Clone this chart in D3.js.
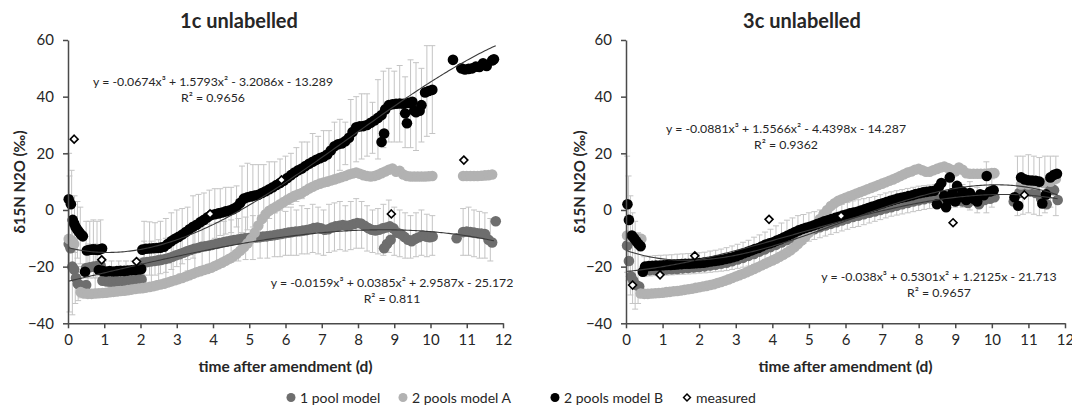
<!DOCTYPE html>
<html><head><meta charset="utf-8">
<script src="https://cdn.jsdelivr.net/npm/d3@7"></script>
<style>
body{margin:0;background:#fff}
svg{display:block}
text{font-family:Lato,"Open Sans",sans-serif;fill:#262626}
</style>
</head><body>
<svg id="chart" width="1072" height="414"></svg>
<script>
// ---------------- DATA ----------------
const xTicks = [0,1,2,3,4,5,6,7,8,9,10,11,12];
const yTicks = [-40,-20,0,20,40,60];
const titles = ["1c unlabelled", "3c unlabelled"];
const xLabel = "time after amendment (d)";
const yLabel = "δ15N N2O (‰)";
const legendLabels = ["1 pool model", "2 pools model A", "2 pools model B", "measured"];

// ---- 1c unlabelled ----
const L_pool1 = [[0.02,-12],[0.07,-13.5],[0.12,-20],[0.17,-21],[0.22,-24],[0.27,-26],[0.32,-26.5],[0.38,-26.8],[0.44,-27],[0.5,-26.5],
[0.5,-20.5],[0.6,-20.2],[0.7,-20],[0.8,-19.8],[0.9,-19.6],
[0.95,-25],[1.05,-25.2],[1.15,-25.3],[1.25,-25.3],[1.35,-25.2],[1.45,-25.2],[1.55,-25.1],[1.65,-25],[1.75,-24.9],[1.85,-24.8],[1.95,-24.6],[2.03,-24.5],
[2.08,-18.6],[2.18,-18.4],[2.28,-18.2],[2.38,-18],[2.48,-17.8],[2.58,-17.6],[2.68,-17.3],[2.78,-17],[2.88,-16.5],[2.98,-16],[3.08,-15.6],[3.18,-15.1],[3.28,-14.6],[3.38,-14.1],[3.48,-13.7],[3.58,-13.4],[3.68,-13],[3.78,-12.8],[3.88,-12.6],[3.98,-12.3],[4.08,-12],[4.18,-11.7],[4.28,-11.4],[4.38,-11.1],[4.48,-10.9],[4.58,-10.6],[4.68,-10.4],[4.78,-10.2],[4.88,-10],[4.98,-9.9],[5.08,-9.8],[5.18,-9.7],[5.28,-9.6],[5.38,-9.4],[5.48,-9.3],[5.58,-9.1],[5.68,-8.9],[5.78,-8.7],[5.88,-8.5],[5.98,-8.2],[6.08,-8],[6.18,-7.8],[6.28,-7.6],[6.38,-7.5],[6.48,-7.3],[6.58,-7.1],[6.68,-6.8],[6.78,-6.4],[6.88,-6.2],[6.98,-6.5],[7.08,-7],[7.18,-6.8],[7.28,-6.2],[7.38,-5.8],[7.48,-5.6],[7.58,-5.3],[7.68,-5.6],[7.78,-5.4],[7.88,-5],[7.98,-4.6],[8.08,-4.8],[8.18,-5.6],[8.28,-6.4],[8.38,-7],[8.48,-7.2],[8.58,-7],[8.68,-6.5],[8.78,-6.2],[8.88,-5.8],[8.98,-6.5],
[8.72,-13.5],[8.8,-12],[8.9,-10.5],
[9.08,-8],[9.18,-8.5],[9.28,-9.5],[9.38,-10.5],[9.48,-11],[9.58,-10.2],[9.68,-9.6],[9.78,-9],[9.88,-9.4],[9.98,-9.6],[10.06,-9.4],
[10.72,-10],
[10.9,-7.8],[11,-7.6],[11.1,-7.8],[11.2,-8],[11.3,-8.2],[11.4,-8.3],[11.5,-8.5],[11.6,-10.5],[11.7,-11.5],[11.8,-4]];

const L_modelA = [[0.02,-10.2],[0.07,-10.5],[0.12,-11],[0.17,-12],
[0.35,-29],[0.45,-29.5],[0.55,-29.6],[0.65,-29.6],[0.75,-29.5],[0.85,-29.4],[0.95,-29.3],[1.05,-29.2],[1.15,-29],[1.25,-28.9],[1.35,-28.8],[1.45,-28.6],[1.55,-28.5],[1.65,-28.3],[1.75,-28.1],[1.85,-27.9],[1.95,-27.7],[2.05,-27.6],[2.15,-27.4],[2.25,-27.2],[2.35,-26.9],[2.45,-26.6],[2.55,-26.3],[2.65,-26],[2.75,-25.6],[2.85,-25.2],[2.95,-24.8],[3.05,-24.4],[3.15,-24],[3.25,-23.5],[3.35,-23],[3.45,-22.5],[3.55,-22],[3.65,-21.6],[3.75,-21.2],[3.85,-20.8],[3.95,-20.4],[4.05,-19.8],[4.15,-19.2],[4.25,-18.6],[4.35,-17.9],[4.45,-17.2],[4.55,-16.5],[4.65,-15.5],[4.75,-14.4],[4.85,-13.2],[4.95,-11.8],[5.05,-10.2],[5.15,-8],[5.25,-5.5],[5.35,-3.2],[5.45,-1.5],[5.55,-0.3],[5.65,0.5],[5.75,1.2],[5.85,2],[5.95,2.8],[6.05,3.6],[6.15,4.3],[6.25,5],[6.35,5.5],[6.45,6],[6.55,6.8],[6.65,7.6],[6.75,8.2],[6.85,8.8],[6.95,9.3],[7.05,9.7],[7.15,10],[7.25,10.4],[7.35,10.8],[7.45,11.2],[7.55,11.6],[7.65,12],[7.75,12.5],[7.85,12.9],[7.95,13.2],[8.05,12.8],[8.15,12.3],[8.25,12],[8.35,11.8],[8.45,12],[8.55,12.4],[8.65,13],[8.75,13.6],[8.85,14.2],[8.95,14.6],[9.05,13.5],[9.15,13.8],[9.25,12.5],[9.35,12],[9.45,11.8],[9.55,11.8],[9.65,11.8],[9.75,11.8],[9.85,11.8],[9.95,11.9],[10.05,12],
[10.9,12],[11,12],[11.1,12],[11.2,12],[11.3,12],[11.4,12.1],[11.5,12.2],[11.6,12.3],[11.7,12.5]];

const L_modelB = [[0.02,3.8],[0.08,2.0],[0.13,-3.5],[0.17,-4.8],[0.21,-6],[0.25,-6.8],[0.29,-7.5],[0.33,-8.2],[0.37,-8.8],[0.41,-9.3],
[0.47,-21.8],
[0.52,-14.3],[0.58,-14.1],[0.64,-14],[0.7,-13.9],[0.76,-14],[0.82,-14.1],[0.88,-13.9],[0.94,-13.6],
[0.85,-21.2],[0.95,-21.5],[1.05,-21.7],[1.15,-21.6],[1.25,-21.7],[1.35,-21.6],[1.45,-21.5],[1.55,-21.5],[1.65,-21.4],[1.75,-21.3],[1.85,-21.2],[1.95,-21],[2.02,-20.8],
[2.05,-14],[2.15,-13.7],[2.25,-13.6],[2.35,-13.5],[2.45,-13.4],[2.55,-13.3],[2.65,-13],[2.75,-12],[2.85,-11],[2.95,-10.2],[3.05,-9.5],[3.15,-8.7],[3.25,-7.8],[3.35,-6.8],[3.45,-5.9],[3.55,-5.2],[3.65,-4.3],[3.75,-3.5],[3.85,-2.6],[3.95,-1.8],[4.05,-1.5],[4.15,-1.2],[4.25,-0.9],[4.35,-0.5],[4.45,-0.2],[4.55,0.3],[4.65,1.0],[4.75,2.5],[4.85,4],[4.95,4.5],[5.05,4.8],[5.15,5.1],[5.25,5.4],[5.35,6],[5.45,6.6],[5.55,7.3],[5.65,8],[5.75,8.8],[5.85,9.5],[5.95,10.3],[6.05,11.3],[6.15,12.3],[6.25,13.2],[6.35,14],[6.45,14.6],[6.55,15.5],[6.65,16.3],[6.75,17],[6.85,17.7],[6.95,18.3],[7.05,18.8],[7.15,19.6],[7.25,21],[7.35,22.5],[7.45,23.2],[7.55,23.5],[7.65,24.3],[7.75,25.5],[7.85,27.5],[7.95,29.2],[8.05,29.5],[8.15,29.6],[8.25,30],[8.35,30.8],[8.45,31.6],[8.55,32.5],
[8.65,24],[8.72,27],
[8.65,33.5],[8.75,35.5],[8.85,37],[8.95,37.3],[9.05,37.5],[9.15,37.6],[9.25,37.5],
[9.3,34.1],[9.35,30.6],
[9.4,37.8],[9.5,38.2],[9.55,35],[9.6,34.5],[9.7,35],[9.75,37],[9.85,41.5],[9.95,42],[10.05,42.4],
[10.62,53],
[10.85,50],[10.95,49.6],[11.05,49.8],[11.15,50],[11.25,50.6],[11.35,50.5],[11.45,51.8],[11.55,50.8],[11.7,52.8],[11.75,53.2]];

const L_measured = [[0.17,25],[0.93,-17.6],[1.89,-18.2],[3.92,-1.4],[5.89,10.6],[8.92,-1.4],[10.92,17.6]];

// error bars [t, low, high]
const L_barsB = [[0.03,-12,20],[0.1,-14,14],[0.18,-15,5],[0.26,-17,3],[0.34,-19,1],
[0.5,-24,-4],[0.6,-24,-4],[0.7,-24,-3.5],[0.8,-24,-4],[0.9,-24,-3.5],
[1.0,-25,-18],[1.2,-25,-18],[1.4,-25,-18],[1.6,-25,-18],[1.8,-25,-18],[2.0,-25,-17],
[2.1,-23,-4],[2.25,-23,-4.2],[2.4,-23,-4.5],[2.55,-22.5,-4],[2.7,-22,-3],[2.85,-21,-1],[3.0,-20,0],[3.15,-19,0.5],[3.3,-17.5,1],[3.45,-17,5],[3.6,-15,5.5],[3.75,-13.5,6],[3.9,-11,7],[4.05,-10,7.5],[4.2,-9,7.5],[4.35,-8.5,8],[4.5,-8,8],[4.65,-6,8.5],[4.8,-8,15.5],[4.95,-7,16.5],[5.1,-6,16],[5.25,-5,16],[5.4,-4,16],[5.55,-3,17],[5.7,-1,17],[5.85,0,18],[6.0,1,19],[6.15,2,20],[6.3,3,22],[6.45,4,24],[6.6,6,24],[6.75,7,27],[6.9,9,26],[7.05,10,28],[7.2,11,28],[7.35,12,31],[7.5,14,32],[7.65,16,31],[7.8,14,39],[7.95,17,40],[8.1,18,41],[8.25,19,41],[8.4,20,38],[8.55,18,46],[8.7,22,49],[8.85,24,50],[9.0,24,49],[9.15,24,51],[9.3,22,47],[9.45,22,53],[9.6,21,52],[9.75,24,50],[9.9,26,58],[10.05,27,58]];

const L_barsP = [[0.04,-36,12],[0.12,-37,-3],[0.2,-33,-14],[0.28,-32,-20],[0.36,-31,-22],
[0.55,-28,-12],[0.75,-28,-12],
[2.1,-26,-11],[2.3,-25.5,-11],[2.5,-25,-10.5],[2.7,-24.5,-10],[2.9,-23.5,-9],[3.1,-22.5,-8.5],[3.3,-21.5,-7.5],[3.5,-21,-6.5],[3.7,-20.5,-5.5],[3.9,-20,-5],[4.1,-19.5,-4.5],[4.3,-19,-4],[4.5,-18.5,-3.5],[4.7,-18,-3],[4.9,-17.5,-2.5],[5.1,-17.5,-2],[5.3,-17,-2],[5.5,-17,-1.5],[5.7,-16.5,-1],[5.85,-16.5,0],[6.0,-16,-0.5],[6.15,-16,1],[6.3,-16,0],[6.45,-15.5,1.5],[6.6,-15.5,0.5],[6.75,-15,2],[6.9,-15.5,1],[7.05,-16,0],[7.2,-15,2],[7.35,-14.5,2.5],[7.5,-14,3],[7.65,-14.5,1.5],[7.8,-14,3],[7.95,-13.5,4],[8.1,-13.5,3],[8.25,-14.5,1.5],[8.4,-15,0],[8.55,-15.5,0.5],[8.7,-16,2],[8.85,-15,3.5],[9.0,-16,1],[9.15,-16.5,0],[9.3,-17,-1],[9.45,-17,-2],[9.6,-16.5,-1],[9.75,-16,0],[9.9,-16.5,-1.5],[10.05,-16,-2],
[10.9,-16,0.5],[11.05,-16,1],[11.2,-16.5,0],[11.35,-17,-0.5],[11.5,-17,-1],[11.65,-18,-3]];

// trendline coefficients (x^3, x^2, x, c)
const L_fitB = [-0.0674, 1.5793, -3.2086, -13.289];
const L_fitP = [-0.0159, 0.0385, 2.9587, -25.172];
const L_eqs = [["y = -0.0674x³ + 1.5793x² - 3.2086x - 13.289", "R² = 0.9656"],
               ["y = -0.0159x³ + 0.0385x² + 2.9587x - 25.172", "R² = 0.811"]];

// ---- 3c unlabelled ----
const R_pool1 = [[0.03,-12.5],[0.08,-18],[0.14,-23.5],[0.2,-25],[0.28,-26.5],[0.36,-27],
[0.5,-21.5],[0.65,-21.3],[0.8,-21.2],[0.95,-21.1],[1.1,-21],[1.25,-20.9],[1.4,-20.8],[1.55,-20.6],[1.7,-20.5],[1.85,-20.3],[2.0,-20.1],[2.15,-19.9],[2.3,-19.6],[2.45,-19.3],[2.6,-19],[2.75,-18.6],[2.9,-18.1],[3.05,-17.5],[3.2,-16.9],[3.35,-16.2],[3.5,-15.5],[3.65,-14.7],[3.8,-13.9],[3.95,-13.1],[4.1,-12.3],[4.25,-11.5],[4.4,-10.6],[4.55,-9.8],[4.7,-9],[4.85,-8.2],[5.0,-7.5],[5.15,-6.8],[5.3,-6.1],[5.45,-5.5],[5.6,-4.9],[5.75,-4.3],[5.9,-3.7],[6.05,-3.1],[6.2,-2.5],[6.35,-2],[6.5,-1.5],[6.65,-1],[6.8,-0.5],[6.95,0],[7.1,0.5],[7.25,1],[7.4,1.5],[7.55,2],[7.7,2.5],[7.85,3],[8.0,3.4],[8.15,3.8],[8.3,4.2],[8.45,4.5],[8.6,3],[8.75,2],[8.9,3.5],[9.05,5],[9.2,3],[9.35,2.5],[9.5,3.5],[9.65,2],[9.8,3.5],[9.95,4],[10.07,4.5],
[10.6,3],[10.75,6],[10.9,7],[11.05,6.5],[11.2,6],[11.35,4],[11.5,2],[11.6,8],[11.7,7],[11.8,3.5]];

const R_modelA = [[0.03,-9],[0.1,-9.5],[0.18,-9.5],[0.26,-9.8],[0.34,-10],[0.42,-10.2],
[0.4,-29.5],[0.5,-29.6],[0.6,-29.6],[0.7,-29.5],[0.8,-29.4],[0.9,-29.3],[1.0,-29.2],[1.1,-29],[1.2,-28.9],[1.3,-28.7],[1.4,-28.6],[1.5,-28.4],[1.6,-28.2],[1.7,-28],[1.8,-27.8],[1.9,-27.5],[2.0,-27.3],[2.1,-27],[2.2,-26.8],[2.3,-26.5],[2.4,-26.2],[2.5,-25.8],[2.6,-25.4],[2.7,-25],[2.8,-24.5],[2.9,-24],[3.0,-23.5],[3.1,-23],[3.2,-22.5],[3.3,-22],[3.4,-21.4],[3.5,-20.8],[3.6,-20.2],[3.7,-19.6],[3.8,-19],[3.9,-18.4],[4.0,-17.8],[4.1,-17.2],[4.2,-16.5],[4.3,-15.8],[4.4,-15],[4.5,-14.2],[4.6,-13.2],[4.7,-12],[4.8,-10.8],[4.9,-9.5],[5.0,-8],[5.1,-6.5],[5.2,-5],[5.3,-3.2],[5.4,-1.5],[5.5,0],[5.6,1.4],[5.7,2.4],[5.8,3.2],[5.9,3.8],[6.0,4.3],[6.1,4.8],[6.2,5.3],[6.3,5.8],[6.4,6.3],[6.5,6.8],[6.6,7.3],[6.7,7.8],[6.8,8.3],[6.9,8.8],[7.0,9.3],[7.1,9.8],[7.2,10.3],[7.3,10.8],[7.4,11.4],[7.5,12],[7.6,12.6],[7.7,13.2],[7.8,13.6],[7.9,14.2],[8.0,14.5],[8.1,14],[8.2,13.5],[8.3,13.5],[8.4,14],[8.5,14.5],[8.6,15],[8.7,15.3],[8.8,14.8],[8.9,14.2],[9.0,13.6],[9.1,15],[9.2,14.2],[9.3,13],[9.4,12.8],[9.5,12.8],[9.6,12.8],[9.7,12.8],[9.8,12.8],[9.9,12.9],[10.0,13],[10.07,13],
[10.8,9],[11.0,9],[11.2,9],[11.4,9.5],[11.6,10],[11.75,11]];

const R_modelB = [[0.04,2],[0.08,-3.5],[0.16,-9],[0.22,-10],[0.28,-11],[0.34,-12],[0.4,-12.8],
[0.46,-21.8],
[0.52,-20],[0.62,-19.8],[0.72,-19.7],[0.82,-19.6],[0.92,-19.6],[1.02,-19.5],[1.12,-19.4],[1.22,-19.4],[1.32,-19.3],[1.42,-19.2],[1.52,-19.1],[1.62,-19],[1.72,-19],[1.82,-18.9],[1.92,-18.8],[2.02,-18.7],[2.12,-18.6],[2.22,-18.4],[2.32,-18.2],[2.42,-18],[2.52,-17.8],[2.62,-17.6],[2.72,-17.3],[2.82,-17],[2.92,-16.7],[3.02,-16.3],[3.12,-15.8],[3.22,-15.3],[3.32,-14.8],[3.42,-14.3],[3.52,-13.8],[3.62,-13.4],[3.72,-12.8],[3.82,-12.2],[3.92,-11.8],[4.02,-11.4],[4.12,-10.8],[4.22,-10.3],[4.32,-9.6],[4.42,-9],[4.52,-8.4],[4.62,-7.8],[4.72,-7.2],[4.82,-6.7],[4.92,-6.3],[5.02,-5.9],[5.12,-5.5],[5.22,-5],[5.32,-4.5],[5.42,-4],[5.52,-3.6],[5.62,-3.2],[5.72,-2.8],[5.82,-2.4],[5.92,-2],[6.02,-1.6],[6.12,-1.2],[6.22,-0.9],[6.32,-0.6],[6.42,-0.2],[6.52,0.2],[6.62,0.7],[6.72,1.1],[6.82,1.5],[6.92,2],[7.02,2.4],[7.12,2.8],[7.22,3.2],[7.32,3.6],[7.42,4],[7.52,4.3],[7.62,4.6],[7.72,4.9],[7.82,5.2],[7.92,5.6],[8.02,5.9],[8.12,6.2],[8.22,6.4],[8.32,6.6],[8.42,6.8],
[8.5,2],[8.55,8],[8.62,9.5],[8.7,5],[8.75,1],[8.8,3.5],[8.85,11.5],[8.92,6],[9.0,3],[9.05,8.5],[9.12,4.5],[9.2,6.5],[9.3,3.5],[9.4,6],[9.5,4],[9.6,3],[9.68,5.5],[9.78,5.2],[9.86,12],[9.95,6.5],[10.05,7],
[10.62,4.5],[10.72,1.5],[10.8,11.5],[10.9,10.8],[11.0,10.5],[11.1,10.4],[11.2,10.3],[11.3,10],[11.38,2.3],[11.48,5.5],[11.6,11.5],[11.7,12.4],[11.78,12.8]];

const R_measured = [[0.18,-26.5],[0.93,-22.9],[1.88,-16.2],[3.91,-3.3],[5.88,-2.1],[8.94,-4.5],[10.89,5.3]];

const R_bars = [[0.03,-22,19],[0.07,-25,12],[0.12,-30,5],[0.18,-33,-1],[0.25,-35,-4],[0.33,-33,-8],
[0.5,-23.5,-16.5],[0.65,-23.3,-16.3],[0.8,-23.2,-16.1],[0.95,-23.1,-16],[1.1,-23,-15.9],[1.25,-22.9,-15.8],[1.4,-22.8,-15.6],[1.55,-22.7,-15.5],[1.7,-22.6,-15.4],[1.85,-22.5,-15.3],[2.0,-22.3,-15.1],[2.15,-22.2,-14.9],[2.3,-22,-14.5],[2.45,-21.8,-14.2],[2.6,-21.6,-13.8],[2.75,-21.4,-13.3],[2.9,-21,-12.7],[3.05,-20.6,-12.1],[3.2,-20.2,-11.4],[3.35,-19.8,-10.7],[3.5,-19.2,-9.6],[3.65,-18.6,-8.8],[3.8,-18,-7.8],[3.95,-17.2,-6.8],[4.1,-16.4,-5.6],[4.25,-15.6,-4.6],[4.4,-14.6,-3.6],[4.55,-13.6,-2.8],[4.7,-12.6,-2],[4.85,-11.8,-1.6],[5.0,-11,-1],[5.15,-10.4,-0.6],[5.3,-9.8,0],[5.45,-9.2,0.6],[5.6,-8.6,1],[5.75,-8,1.5],[5.9,-7.4,2],[6.05,-6.8,2.6],[6.2,-6.2,3.2],[6.35,-5.8,3.6],[6.5,-5.2,4],[6.65,-4.6,4.4],[6.8,-4,4.8],[6.95,-3.4,5.4],[7.1,-2.8,6],[7.25,-2.2,6.4],[7.4,-1.8,6.8],[7.55,-1.4,7.2],[7.7,-1,7.6],[7.85,-0.6,8],[8.0,-0.2,8.4],[8.15,0.2,8.6],[8.3,0.5,8.8],[8.45,0.8,9],[8.6,1,9],[8.85,2,10],[9.0,1,8],[9.2,1,9],[9.4,0,10],[9.6,-1,8],[9.85,-1,17],[10.0,1,11],
[10.7,-2,19],[10.85,-1.5,19],[11.0,-1,19.5],[11.15,-1.5,19],[11.3,-2,18.5],[11.45,-1,19],[11.6,1,19],[11.75,-2,19]];

const R_fitTop = [-0.0881, 1.5566, -4.4398, -14.287];
const R_fitBot = [-0.038, 0.5301, 1.2125, -21.713];
const R_eqs = [["y = -0.0881x³ + 1.5566x² - 4.4398x - 14.287", "R² = 0.9362"],
               ["y = -0.038x³ + 0.5301x² + 1.2125x - 21.713", "R² = 0.9657"]];

// ---------------- STYLE ----------------
const C_P1 = "#6e6e6e", C_A = "#b2b2b2", C_B = "#000000", C_BAR = "#c4c4c4", C_FIT = "#3a3a3a", C_AX = "#4a4a4a";
const R_DOT = 5.3;
const EQ_SIZE = 12.3;

const svg = d3.select("#chart");

const panels = [
  {title: titles[0], xr: [68, 503], titleX: 239, ylabX: 25,
   pool1: L_pool1, A: L_modelA, B: L_modelB, meas: L_measured, bars: [L_barsP, L_barsB],
   fits: [{c: L_fitB, t0: 0, t1: 11.8}, {c: L_fitP, t0: 0, t1: 11.75}],
   eqs: [{t: L_eqs[0], x: 213, y: 86}, {t: L_eqs[1], x: 392, y: 287}]},
  {title: titles[1], xr: [626, 1065], titleX: 802, ylabX: 585,
   pool1: R_pool1, A: R_modelA, B: R_modelB, meas: R_measured, bars: [R_bars],
   fits: [{c: R_fitTop, t0: 0, t1: 11.8}, {c: R_fitBot, t0: 0, t1: 11.8}],
   eqs: [{t: R_eqs[0], x: 786, y: 133}, {t: R_eqs[1], x: 939, y: 281}]}
];

const yr = [323.3, 40];
const poly = (c, t) => c[0]*t*t*t + c[1]*t*t + c[2]*t + c[3];

panels.forEach(p => {
  const x = d3.scaleLinear().domain([0, 12]).range(p.xr);
  const y = d3.scaleLinear().domain([-40, 60]).range(yr);
  const g = svg.append("g");

  // error bars
  p.bars.forEach(bs => {
    const eb = g.append("g").attr("stroke", C_BAR).attr("stroke-width", 1).attr("fill", "none");
    bs.forEach(d => {
      const xx = x(d[0]);
      eb.append("line").attr("x1", xx).attr("x2", xx).attr("y1", y(d[1])).attr("y2", y(d[2]));
      eb.append("line").attr("x1", xx-3).attr("x2", xx+3).attr("y1", y(d[1])).attr("y2", y(d[1]));
      eb.append("line").attr("x1", xx-3).attr("x2", xx+3).attr("y1", y(d[2])).attr("y2", y(d[2]));
    });
  });

  // series
  [[p.pool1, C_P1], [p.A, C_A], [p.B, C_B]].forEach(([data, col]) => {
    g.append("g").selectAll("circle").data(data).join("circle")
      .attr("cx", d => x(d[0])).attr("cy", d => y(d[1])).attr("r", R_DOT).attr("fill", col);
  });

  // trendlines
  p.fits.forEach(f => {
    const pts = d3.range(f.t0, f.t1 + 0.001, 0.05).map(t => [t, poly(f.c, t)]);
    g.append("path").datum(pts)
      .attr("d", d3.line().x(d => x(d[0])).y(d => y(d[1])))
      .attr("fill", "none").attr("stroke", C_FIT).attr("stroke-width", 1.1);
  });

  // measured
  g.append("g").selectAll("path").data(p.meas).join("path")
    .attr("d", d3.symbol(d3.symbolDiamond2, 40))
    .attr("transform", d => `translate(${x(d[0])},${y(d[1])})`)
    .attr("fill", "#fff").attr("stroke", "#000").attr("stroke-width", 1.6);

  // axes
  const ax = g.append("g").attr("transform", `translate(0,${yr[0]})`)
    .call(d3.axisBottom(x).tickValues(xTicks).tickSize(5).tickSizeOuter(0).tickPadding(6));
  const ay = g.append("g").attr("transform", `translate(${p.xr[0]},0)`)
    .call(d3.axisLeft(y).tickValues(yTicks).tickSize(5).tickSizeOuter(0).tickPadding(9));
  [ax, ay].forEach(a => {
    a.select(".domain").attr("stroke", C_AX).attr("stroke-width", 1.5);
    a.selectAll(".tick line").attr("stroke", C_AX).attr("stroke-width", 1.5);
    a.selectAll(".tick text").attr("font-size", 15).attr("fill", "#333")
      .style("font-family", 'Lato, "Open Sans", sans-serif');
  });

  // equations
  p.eqs.forEach(e => {
    g.append("text").attr("x", e.x).attr("y", e.y).attr("text-anchor", "middle")
      .attr("font-size", EQ_SIZE).text(e.t[0]);
    g.append("text").attr("x", e.x).attr("y", e.y + 16).attr("text-anchor", "middle")
      .attr("font-size", EQ_SIZE).text(e.t[1]);
  });

  // titles & labels
  g.append("text").attr("x", p.titleX).attr("y", 28).attr("text-anchor", "middle")
    .attr("font-size", 20).attr("font-weight", "bold").attr("fill", "#111").text(p.title);
  g.append("text").attr("x", (p.xr[0] + p.xr[1]) / 2).attr("y", 372).attr("text-anchor", "middle")
    .attr("font-size", 15.5).attr("font-weight", "bold").attr("fill", "#111").text(xLabel);
  g.append("text").attr("transform", `translate(${p.ylabX},182) rotate(-90)`)
    .attr("text-anchor", "middle").attr("font-size", 15).attr("font-weight", "bold").attr("fill", "#111").text(yLabel);
});

// legend
const legX = [291, 403, 555, 687];
const legCols = [C_P1, C_A, C_B, null];
const lg = svg.append("g");
legendLabels.forEach((lab, i) => {
  if (legCols[i]) {
    lg.append("circle").attr("cx", legX[i]).attr("cy", 397.5).attr("r", 4.5).attr("fill", legCols[i]);
  } else {
    lg.append("path").attr("d", d3.symbol(d3.symbolDiamond2, 30))
      .attr("transform", `translate(${legX[i]},397.5)`).attr("fill", "#fff").attr("stroke", "#000").attr("stroke-width", 1.5);
  }
  lg.append("text").attr("x", legX[i] + 9).attr("y", 402.5).attr("font-size", 14).attr("fill", "#333").text(lab);
});
</script>
</body></html>
